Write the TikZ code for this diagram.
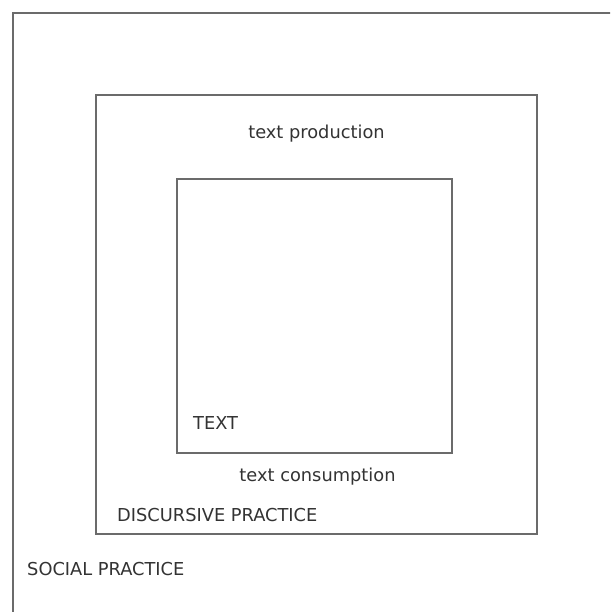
\documentclass[tikz,border=0pt]{standalone}
\usepackage{fontspec}
\setmainfont{DejaVu Sans}
\begin{document}
\begin{tikzpicture}[x=1pt,y=-1pt,
  frame/.style={draw=black!58, line width=1.4pt},
  lbl/.style={inner sep=0pt, text=black!80, font=\fontsize{17.8}{20}\selectfont}]
\useasboundingbox (0,0) rectangle (610,612);
\clip (0,0) rectangle (610,612);
\fill[white] (0,0) rectangle (610,612);
% social practice frame (extends past right and bottom edges)
\draw[frame] (13,13) rectangle (640,640);
% discursive practice frame
\draw[frame] (96,95) rectangle (537,534);
% text frame
\draw[frame] (177,179) rectangle (452,453);
\node[lbl, anchor=base] (prod) at (316.5,139) {text production};
\node[lbl, anchor=base west] (txt) at (193,429) {TEXT};
\node[lbl, anchor=base] (cons) at (317.5,481) {text consumption};
\node[lbl, anchor=base west] (disc) at (117,521) {DISCURSIVE PRACTICE};
\node[lbl, anchor=base west] (soc) at (27,575) {SOCIAL PRACTICE};
\end{tikzpicture}
\end{document}
